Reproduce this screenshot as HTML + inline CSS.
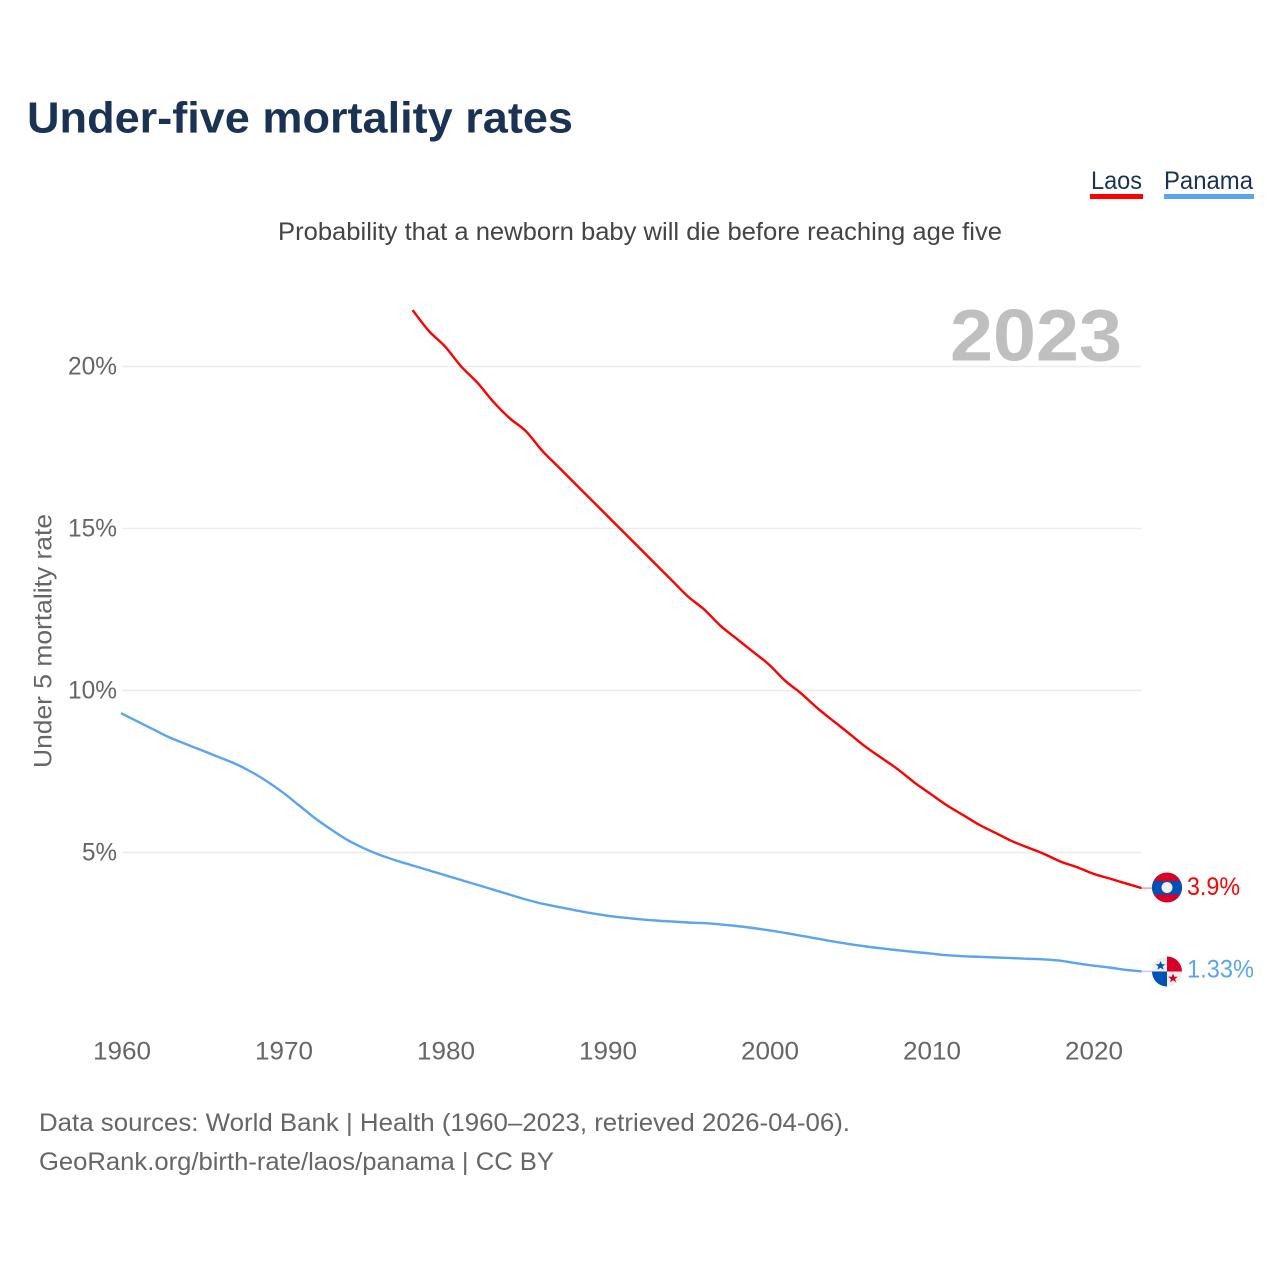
<!DOCTYPE html>
<html lang="en">
<head>
<meta charset="utf-8">
<title>Under-five mortality rates</title>
<style>
html,body{margin:0;padding:0;background:#fff;width:1280px;height:1280px;overflow:hidden}
svg{display:block}
text{font-family:"Liberation Sans",sans-serif}
</style>
</head>
<body>
<svg id="chart" xmlns="http://www.w3.org/2000/svg" width="1280" height="1280" viewBox="0 0 1280 1280">
  <defs>
    <clipPath id="laos-clip"><circle cx="1167" cy="887.5" r="15"/></clipPath>
    <clipPath id="panama-clip"><circle cx="1167" cy="971.5" r="15"/></clipPath>
  </defs>
  <rect x="0" y="0" width="1280" height="1280" fill="#ffffff"/>
  <text x="27" y="132.5" font-size="44" font-weight="700" fill="#1a3354" textLength="546" lengthAdjust="spacingAndGlyphs">Under-five mortality rates</text>
  <text x="278" y="240" font-size="25" fill="#444444" textLength="724" lengthAdjust="spacingAndGlyphs">Probability that a newborn baby will die before reaching age five</text>

  <g style="cursor:pointer">
    <text x="1091" y="189" font-size="25" fill="#1a3354" textLength="51" lengthAdjust="spacingAndGlyphs">Laos</text>
    <rect x="1090" y="194" width="53" height="5" fill="#ff0000"/>
  </g>
  <g style="cursor:pointer">
    <text x="1164" y="189" font-size="25" fill="#1a3354" textLength="89" lengthAdjust="spacingAndGlyphs">Panama</text>
    <rect x="1164" y="194" width="90" height="5" fill="#5ba4ee"/>
  </g>

  <text x="1122" y="360.5" font-size="73" font-weight="700" fill="#bfbfbf" text-anchor="end" textLength="172" lengthAdjust="spacingAndGlyphs">2023</text>

  <g id="grid"></g>
  <g id="y-ticks"></g>
  <g id="x-ticks"></g>

  <text transform="translate(51.5,641) rotate(-90)" font-size="25" fill="#666666" text-anchor="middle" textLength="254" lengthAdjust="spacingAndGlyphs">Under 5 mortality rate</text>

  <g id="series"></g>

  <g clip-path="url(#laos-clip)">
    <rect x="1150" y="870" width="34" height="36" fill="#d80027"/>
    <rect x="1150" y="881" width="34" height="13.5" fill="#0052b4"/>
    <circle cx="1167" cy="887.5" r="5.5" fill="#f0f0f0"/>
  </g>
  <g clip-path="url(#panama-clip)">
    <rect x="1150" y="954" width="34" height="36" fill="#eeeeee"/>
    <rect x="1167" y="954" width="17" height="17.5" fill="#d80027"/>
    <rect x="1150" y="971.5" width="17" height="17.5" fill="#0052b4"/>
    <polygon points="1160.5,961 1161.9,964.3 1165.3,964.3 1162.6,966.5 1163.6,969.8 1160.5,967.8 1157.4,969.8 1158.4,966.5 1155.7,964.3 1159.1,964.3" fill="#0052b4"/>
    <polygon points="1173,973.5 1174.4,976.8 1177.8,976.8 1175.1,979 1176.1,982.3 1173,980.3 1169.9,982.3 1170.9,979 1168.2,976.8 1171.6,976.8" fill="#d80027"/>
  </g>

  <text x="1187" y="895" font-size="25" fill="#ff0000" textLength="53" lengthAdjust="spacingAndGlyphs">3.9%</text>
  <text x="1187" y="977.5" font-size="25" fill="#5ba4ee" textLength="67" lengthAdjust="spacingAndGlyphs">1.33%</text>

  <text x="39" y="1131" font-size="25" fill="#666666" textLength="811" lengthAdjust="spacingAndGlyphs">Data sources: World Bank | Health (1960–2023, retrieved 2026-04-06).</text>
  <text x="39" y="1170" font-size="25" fill="#666666" textLength="515" lengthAdjust="spacingAndGlyphs">GeoRank.org/birth-rate/laos/panama | CC BY</text>
</svg>
<script>
const xTickYears = [1960, 1970, 1980, 1990, 2000, 2010, 2020];
const yTickValues = [5, 10, 15, 20];
const laosStartYear = 1978;
const laosValues = [21.74, 21.1, 20.62, 20.0, 19.5, 18.9, 18.4, 18.0, 17.4, 16.9, 16.4, 15.9, 15.4, 14.9, 14.4, 13.9, 13.4, 12.9, 12.5, 12.0, 11.6, 11.2, 10.8, 10.3, 9.9, 9.45, 9.05, 8.65, 8.25, 7.9, 7.55, 7.15, 6.8, 6.45, 6.15, 5.85, 5.6, 5.35, 5.15, 4.95, 4.72, 4.55, 4.35, 4.2, 4.05, 3.9];
const panamaStartYear = 1960;
const panamaValues = [9.3, 9.05, 8.8, 8.55, 8.35, 8.15, 7.95, 7.75, 7.5, 7.2, 6.85, 6.45, 6.05, 5.7, 5.38, 5.13, 4.92, 4.75, 4.6, 4.45, 4.3, 4.15, 4.0, 3.85, 3.7, 3.55, 3.42, 3.32, 3.22, 3.13, 3.05, 2.99, 2.94, 2.9, 2.87, 2.84, 2.82, 2.78, 2.73, 2.67, 2.6, 2.52, 2.43, 2.34, 2.25, 2.17, 2.1, 2.04, 1.98, 1.93, 1.88, 1.83, 1.8, 1.78, 1.76, 1.74, 1.72, 1.7, 1.66, 1.58, 1.51, 1.45, 1.38, 1.33];

const NS = 'http://www.w3.org/2000/svg';
function xScale(year) { return 122 + (year - 1960) * 16.2; }
function lineX(year) { return xScale(year) - 1; }
function yScale(value) { return 852.5 - (value - 5) * 32.4; }

const gridGroup = document.getElementById('grid');
const yTickGroup = document.getElementById('y-ticks');
const xTickGroup = document.getElementById('x-ticks');
const seriesGroup = document.getElementById('series');

yTickValues.forEach(function (value) {
  const line = document.createElementNS(NS, 'line');
  
  
  line.setAttribute('x1', 122);
  line.setAttribute('x2', lineX(2023));
  line.setAttribute('y1', yScale(value));
  line.setAttribute('y2', yScale(value));
  line.setAttribute('stroke', '#ececec');
  line.setAttribute('stroke-width', 1.5);
  gridGroup.appendChild(line);

  const label = document.createElementNS(NS, 'text');
  
  
  label.setAttribute('x', 117);
  label.setAttribute('y', yScale(value) + 8);
  label.setAttribute('font-size', 25);
  label.setAttribute('fill', '#666666');
  label.setAttribute('text-anchor', 'end');
  label.setAttribute('textLength', value < 10 ? 35 : 49);
  label.setAttribute('lengthAdjust', 'spacingAndGlyphs');
  label.textContent = value + '%';
  yTickGroup.appendChild(label);
});

xTickYears.forEach(function (year) {
  const label = document.createElementNS(NS, 'text');
  
  
  label.setAttribute('x', xScale(year));
  label.setAttribute('y', 1059.5);
  label.setAttribute('font-size', 25);
  label.setAttribute('fill', '#666666');
  label.setAttribute('text-anchor', 'middle');
  label.setAttribute('textLength', 58);
  label.setAttribute('lengthAdjust', 'spacingAndGlyphs');
  label.textContent = year;
  xTickGroup.appendChild(label);
});

function smoothPath(startYear, values) {
  const pts = values.map(function (value, i) {
    return [lineX(startYear + i), yScale(value)];
  });
  let d = 'M' + pts[0][0].toFixed(1) + ' ' + pts[0][1].toFixed(1);
  for (let i = 0; i < pts.length - 1; i++) {
    const p0 = pts[Math.max(i - 1, 0)];
    const p1 = pts[i];
    const p2 = pts[i + 1];
    const p3 = pts[Math.min(i + 2, pts.length - 1)];
    const c1x = p1[0] + (p2[0] - p0[0]) / 6;
    const c1y = p1[1] + (p2[1] - p0[1]) / 6;
    const c2x = p2[0] - (p3[0] - p1[0]) / 6;
    const c2y = p2[1] - (p3[1] - p1[1]) / 6;
    d += 'C' + c1x.toFixed(1) + ' ' + c1y.toFixed(1) + ' ' + c2x.toFixed(1) + ' ' + c2y.toFixed(1) + ' ' + p2[0].toFixed(1) + ' ' + p2[1].toFixed(1);
  }
  return d;
}

const laosLine = document.createElementNS(NS, 'path');


laosLine.setAttribute('d', smoothPath(laosStartYear, laosValues));
laosLine.setAttribute('fill', 'none');
laosLine.setAttribute('stroke', '#ff0000');
laosLine.setAttribute('stroke-width', 2.4);
laosLine.setAttribute('stroke-linejoin', 'round');
seriesGroup.appendChild(laosLine);

const panamaLine = document.createElementNS(NS, 'path');


panamaLine.setAttribute('d', smoothPath(panamaStartYear, panamaValues));
panamaLine.setAttribute('fill', 'none');
panamaLine.setAttribute('stroke', '#5ba4ee');
panamaLine.setAttribute('stroke-width', 2.4);
panamaLine.setAttribute('stroke-linejoin', 'round');
seriesGroup.appendChild(panamaLine);

const laosLeader = document.createElementNS(NS, 'line');


laosLeader.setAttribute('x1', lineX(2023));
laosLeader.setAttribute('x2', 1153);
laosLeader.setAttribute('y1', yScale(laosValues[laosValues.length - 1]));
laosLeader.setAttribute('y2', yScale(laosValues[laosValues.length - 1]));
laosLeader.setAttribute('stroke', '#ff9a9a');
laosLeader.setAttribute('stroke-width', 1.5);
seriesGroup.appendChild(laosLeader);

const panamaLeader = document.createElementNS(NS, 'line');


panamaLeader.setAttribute('x1', lineX(2023));
panamaLeader.setAttribute('x2', 1153);
panamaLeader.setAttribute('y1', yScale(panamaValues[panamaValues.length - 1]));
panamaLeader.setAttribute('y2', yScale(panamaValues[panamaValues.length - 1]));
panamaLeader.setAttribute('stroke', '#b5d5f6');
panamaLeader.setAttribute('stroke-width', 1.5);
seriesGroup.appendChild(panamaLeader);
</script>
</body>
</html>
